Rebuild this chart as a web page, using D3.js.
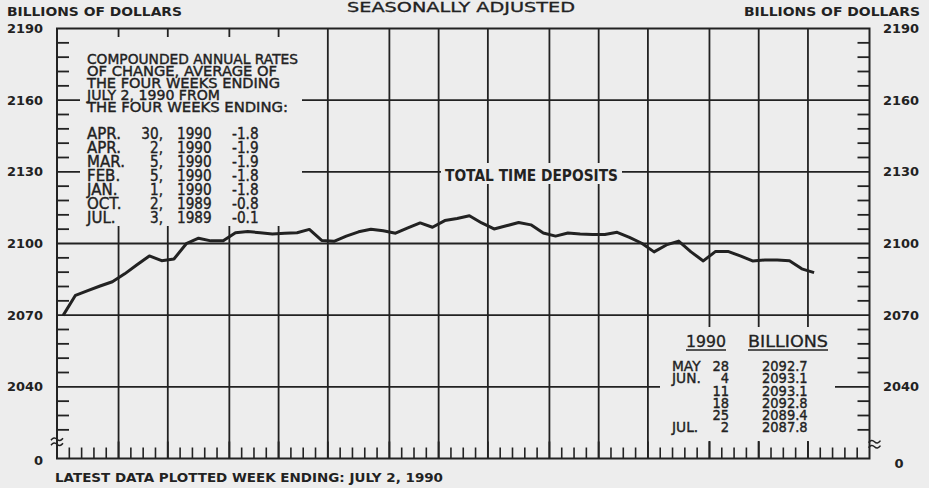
<!DOCTYPE html>
<html><head><meta charset="utf-8">
<script src="https://cdn.jsdelivr.net/npm/d3@7"></script>
<style>html,body{margin:0;background:#ededed}svg{display:block}</style>
</head><body><svg id="c" width="929" height="488"></svg>
<script>
// ---------------- data ----------------
const firstWeek = "1989-05-01";          // week ending Monday, first plotted
const chartEnd = "1990-08-06";           // end of the time axis
const weeklyValues = [
  2069.9, 2078.3, 2080.3, 2082.2, 2084.0, 2087.3, 2091.1, 2094.8, 2092.8, 2093.5,
  2099.9, 2102.2, 2101.1, 2101.1, 2104.5, 2105.0, 2104.5, 2104.0, 2104.3, 2104.5,
  2105.9, 2101.3, 2100.9, 2103.1, 2104.9, 2106.0, 2105.3, 2104.3, 2106.5, 2108.6,
  2106.8, 2109.6, 2110.5, 2111.6, 2108.6, 2106.1, 2107.4, 2108.8, 2107.8, 2104.4,
  2103.1, 2104.4, 2104.0, 2103.8, 2103.8, 2104.7, 2102.6, 2100.1, 2096.5, 2099.4,
  2101.0, 2096.5, 2092.7, 2096.7, 2096.7, 2094.8, 2092.7, 2093.1, 2093.1, 2092.8,
  2089.4, 2087.8
];
const yMajorTicks = [2040, 2070, 2100, 2130, 2160, 2190];
const yBreakValue = 2010, yBreakLabel = "0";
const yMinorStep = 6;
const unitsLabel = "BILLIONS OF DOLLARS";
const titleText = "SEASONALLY ADJUSTED";
const seriesLabel = "TOTAL TIME DEPOSITS";
const footnote = "LATEST DATA PLOTTED WEEK ENDING: JULY 2, 1990";
const rateHeader = ["COMPOUNDED ANNUAL RATES", "OF CHANGE, AVERAGE OF", "THE FOUR WEEKS ENDING", "JULY 2, 1990 FROM", "THE FOUR WEEKS ENDING:"];
const rateMonths = ["APR.", "APR.", "MAR.", "FEB.", "JAN.", "OCT.", "JUL."];
const rateDays = ["30,", "2,", "5,", "5,", "1,", "2,", "3,"];
const rateYears = ["1990", "1990", "1990", "1990", "1990", "1989", "1989"];
const rateValues = ["-1.8", "-1.9", "-1.9", "-1.8", "-1.8", "-0.8", "-0.1"];
const recentHeader = ["1990", "BILLIONS"];
const recentMonths = ["MAY", "JUN.", "", "", "", "JUL."];
const recentDays = ["28", "4", "11", "18", "25", "2"];
const recentValues = ["2092.7", "2093.1", "2093.1", "2092.8", "2089.4", "2087.8"];

// ---------------- layout ----------------
const ink = "#222";
const bg = "#ededed";
const L = 57, R = 869.5, T = 28.5, B = 458.5;
const svg = d3.select("#c");
svg.append("rect").attr("width", 929).attr("height", 488).attr("fill", bg);

const parse = d3.utcParse("%Y-%m-%d");
const t0 = parse(firstWeek), t1 = parse(chartEnd);
const x = d3.scaleUtc().domain([t0, t1]).range([L, R]);
const y = d3.scaleLinear().domain([yBreakValue, d3.max(yMajorTicks)]).range([B, T]);

const mondays = d3.utcMonday.range(t0, d3.utcDay.offset(t1, 1));
const monthStarts = mondays.filter(d => d.getUTCDate() <= 7 && +d !== +t0 && +d !== +t1);
const weekTicks = mondays.filter(d => d.getUTCDate() > 7);
const dates = mondays.slice(0, weeklyValues.length);
const mid = d => d3.utcHour.offset(d, 84);

const g = svg.append("g");
// horizontal gridlines
g.selectAll(".hg").data(yMajorTicks.filter(v => v < d3.max(yMajorTicks))).join("line")
  .attr("x1", L).attr("x2", R).attr("y1", d => y(d)).attr("y2", d => y(d))
  .attr("stroke", ink).attr("stroke-width", 1.8);
// vertical month gridlines
g.selectAll(".vg").data(monthStarts).join("line")
  .attr("x1", d => x(d)).attr("x2", d => x(d)).attr("y1", T).attr("y2", B)
  .attr("stroke", ink).attr("stroke-width", 1.8);

// masks behind annotations
const masks = [[80, 37, 302, 226], [441, 163, 622, 184], [660, 327, 835, 441]];
svg.selectAll(".mask").data(masks).join("rect")
  .attr("x", d => d[0]).attr("y", d => d[1]).attr("width", d => d[2] - d[0]).attr("height", d => d[3] - d[1])
  .attr("fill", bg);

// frame
svg.append("rect").attr("x", L).attr("y", T).attr("width", R - L).attr("height", B - T)
  .attr("fill", "none").attr("stroke", ink).attr("stroke-width", 2);

// minor y ticks
const minor = d3.range(yBreakValue + 2 * yMinorStep, d3.max(yMajorTicks), yMinorStep).filter(v => (v - yBreakValue) % 30 !== 0);
svg.selectAll(".myl").data(minor).join("line")
  .attr("x1", L).attr("x2", L + 12).attr("y1", d => y(d)).attr("y2", d => y(d))
  .attr("stroke", ink).attr("stroke-width", 1.8);
svg.selectAll(".myr").data(minor).join("line")
  .attr("x1", R - 12).attr("x2", R).attr("y1", d => y(d)).attr("y2", d => y(d))
  .attr("stroke", ink).attr("stroke-width", 1.8);
// weekly ticks on bottom
svg.selectAll(".wt").data(weekTicks).join("line")
  .attr("x1", d => x(d)).attr("x2", d => x(d)).attr("y1", B - 11).attr("y2", B)
  .attr("stroke", ink).attr("stroke-width", 1.6);
// month ticks in masked region (longer)
svg.selectAll(".mt").data(monthStarts).join("line")
  .attr("x1", d => x(d)).attr("x2", d => x(d)).attr("y1", B - 17).attr("y2", B)
  .attr("stroke", ink).attr("stroke-width", 1.8);

// break symbols
function brk(cx, cy) {
  const p = d3.path();
  [-2.5, 2.5].forEach(o => {
    p.moveTo(cx - 6, cy + o + 1);
    p.quadraticCurveTo(cx - 3, cy + o - 3, cx, cy + o);
    p.quadraticCurveTo(cx + 3, cy + o + 3, cx + 6, cy + o - 1);
  });
  return p.toString();
}
svg.append("path").attr("d", brk(L, y(yBreakValue + 7))).attr("fill", "none").attr("stroke", ink).attr("stroke-width", 1.5);
svg.append("path").attr("d", brk(R + 5, y(yBreakValue + 6))).attr("fill", "none").attr("stroke", ink).attr("stroke-width", 1.5);

// data line
svg.append("path").datum(weeklyValues)
  .attr("d", d3.line().x((d, i) => x(mid(dates[i]))).y(d => y(d)))
  .attr("fill", "none").attr("stroke", ink).attr("stroke-width", 3).attr("stroke-linejoin", "round");

// ---------------- text ----------------
const font = "'DejaVu Sans', 'Liberation Sans', Arial, sans-serif";
function txt(s, xx, yy, opts = {}) {
  const t = svg.append("text").attr("x", xx).attr("y", yy).text(s)
    .attr("font-family", font).attr("font-size", opts.size || 13)
    .attr("font-weight", opts.bold ? "bold" : "normal")
    .attr("fill", ink).attr("text-anchor", opts.anchor || "start");
  if (opts.len) t.attr("textLength", opts.len).attr("lengthAdjust", "spacingAndGlyphs");
  if (opts.stroke) t.attr("stroke", ink).attr("stroke-width", opts.stroke);
  return t;
}
function ctxt(s, xx, yy, size, anchor, sx) {
  return svg.append("text").attr("transform", `translate(${xx},${yy}) scale(${sx},1)`).text(s)
    .attr("font-family", font).attr("font-size", size).attr("fill", ink)
    .attr("text-anchor", anchor).attr("stroke", ink).attr("stroke-width", 0.4);
}

// y labels
yMajorTicks.forEach(v => {
  txt(String(v), 43, y(v) + 4.5, { bold: true, size: 13, anchor: "end", len: 36 });
  txt(String(v), 883, y(v) + 4.5, { bold: true, size: 13, len: 36 });
});
txt(yBreakLabel, 43, y(yBreakValue) + 6, { bold: true, size: 13, anchor: "end" });
txt(yBreakLabel, 899, y(yBreakValue) + 9, { bold: true, size: 13, anchor: "middle" });

txt(unitsLabel, 7, 16, { bold: true, size: 12.5, len: 175 });
txt(unitsLabel, 920, 16, { bold: true, size: 12.5, len: 176, anchor: "end" });
txt(titleText, 347, 12, { size: 13.5, len: 228, stroke: 0.3 });
txt(footnote, 55, 482, { bold: true, size: 13, len: 388 });
txt(seriesLabel, 445, 181, { bold: true, size: 15.5, len: 173 });

// rate annotation
const headerLens = [211, 190, 193, 133, 201];
const headerBase = [64, 76, 88, 100, 112];
rateHeader.forEach((s, i) => txt(s, 87, headerBase[i], { size: 13.5, len: headerLens[i], stroke: 0.4 }));
rateMonths.forEach((s, i) => {
  const yy = 139 + i * 14;
  ctxt(s, 87, yy, 15.5, "start", 0.97);
  ctxt(rateDays[i], 163, yy, 15.5, "end", 0.88);
  ctxt(rateYears[i], 177, yy, 15.5, "start", 0.88);
  ctxt(rateValues[i], 232, yy, 15.5, "start", 0.88);
});

// recent values table
txt(recentHeader[0], 686, 347, { size: 15.5, len: 40, stroke: 0.3 });
txt(recentHeader[1], 748, 347, { size: 15.5, len: 80, stroke: 0.3 });
svg.append("line").attr("x1", 686).attr("x2", 726).attr("y1", 350).attr("y2", 350).attr("stroke", ink).attr("stroke-width", 1.5);
svg.append("line").attr("x1", 748).attr("x2", 828).attr("y1", 350).attr("y2", 350).attr("stroke", ink).attr("stroke-width", 1.5);
const recentBase = [371, 383, 396, 408, 420, 432];
recentValues.forEach((s, i) => {
  if (recentMonths[i]) ctxt(recentMonths[i], 672, recentBase[i], 14.5, "start", 0.95);
  ctxt(recentDays[i], 729, recentBase[i], 14.5, "end", 0.9);
  ctxt(s, 762, recentBase[i], 14.5, "start", 0.9);
});
</script>
</body></html>
